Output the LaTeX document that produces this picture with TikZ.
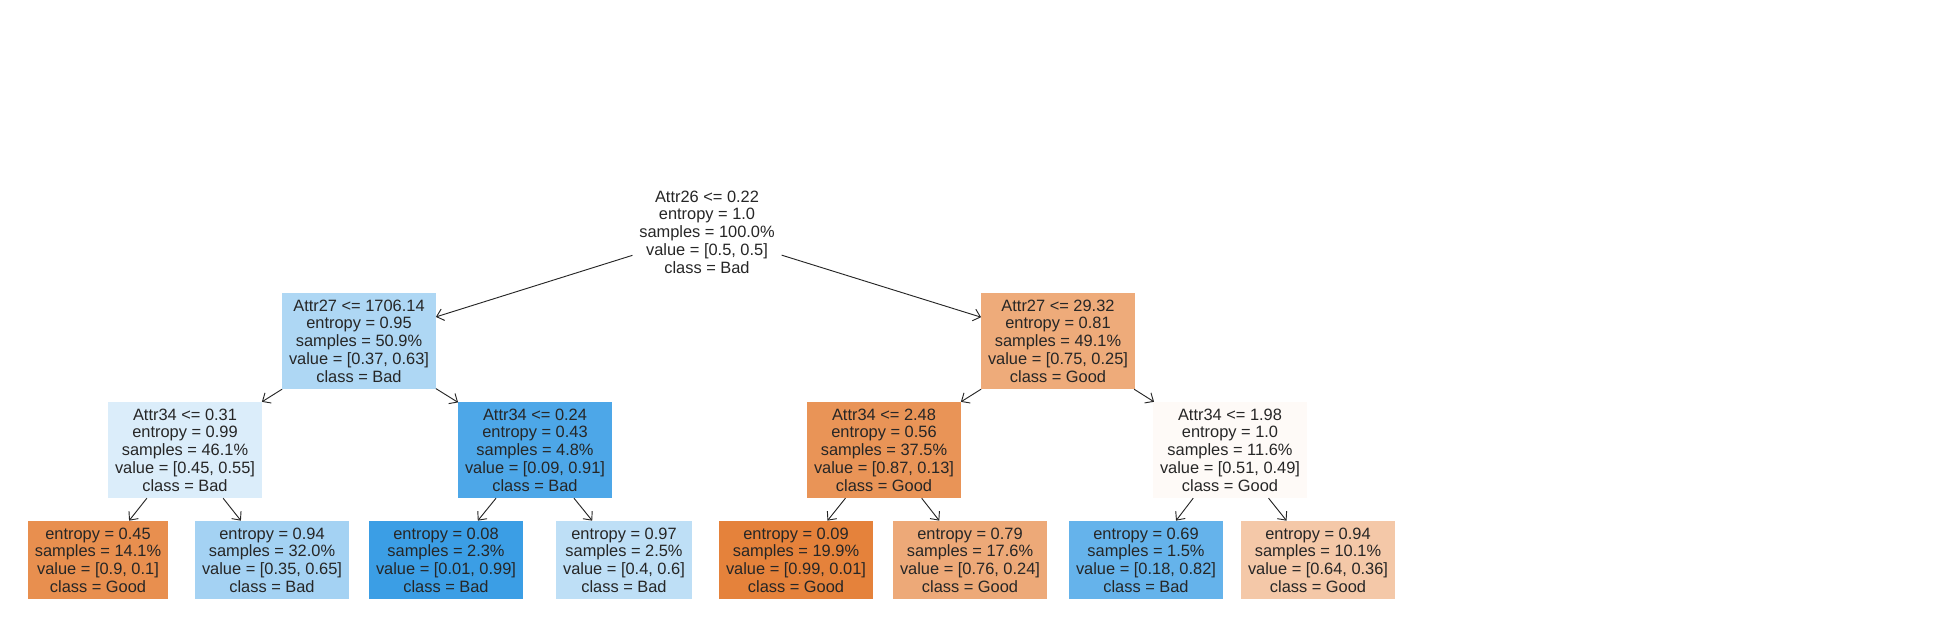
\documentclass[tikz,border=0pt]{standalone}
\usepackage{fontspec}
\setmainfont{Liberation Sans}
\usepackage{tikz}
\usetikzlibrary{arrows.meta}
\definecolor{good}{RGB}{229,129,57}
\definecolor{bad}{RGB}{57,157,229}
\definecolor{ink}{RGB}{38,38,38}

\begin{document}
\begin{tikzpicture}[x=0.75pt,y=-0.75pt]
                      \tikzstyle{split}=[align=center,inner xsep=5pt,inner ysep=5pt,text=ink,font=\fontsize{12.3}{13.3}\selectfont]
                      \tikzstyle{edge}=[draw=ink,line width=0.7pt,-{Straight Barb[length=5pt,width=9pt]}]
                      \useasboundingbox (0,0) rectangle (1957,623);
                      % root and inner splits
                      \node[split,fill=white] (root) at (707,232) {Attr26 <= 0.22\\entropy = 1.0\\samples = 100.0\%\\value = [0.5, 0.5]\\class = Bad};
                      \node[split,fill=bad!41!white] (l) at (359,341) {Attr27 <= 1706.14\\entropy = 0.95\\samples = 50.9\%\\value = [0.37, 0.63]\\class = Bad};
                      \node[split,fill=good!67!white] (r) at (1058,341) {Attr27 <= 29.32\\entropy = 0.81\\samples = 49.1\%\\value = [0.75, 0.25]\\class = Good};
                      \node[split,fill=bad!18!white] (ll) at (185,450) {Attr34 <= 0.31\\entropy = 0.99\\samples = 46.1\%\\value = [0.45, 0.55]\\class = Bad};
                      \node[split,fill=bad!90!white] (lr) at (535,450) {Attr34 <= 0.24\\entropy = 0.43\\samples = 4.8\%\\value = [0.09, 0.91]\\class = Bad};
                      \node[split,fill=good!85!white] (rl) at (884,450) {Attr34 <= 2.48\\entropy = 0.56\\samples = 37.5\%\\value = [0.87, 0.13]\\class = Good};
                      \node[split,fill=good!4!white] (rr) at (1230,450) {Attr34 <= 1.98\\entropy = 1.0\\samples = 11.6\%\\value = [0.51, 0.49]\\class = Good};
                      % leaves
                      \node[split,fill=good!89!white] (lll) at (98,560) {entropy = 0.45\\samples = 14.1\%\\value = [0.9, 0.1]\\class = Good};
                      \node[split,fill=bad!46!white] (llr) at (272,560) {entropy = 0.94\\samples = 32.0\%\\value = [0.35, 0.65]\\class = Bad};
                      \node[split,fill=bad!99!white] (lrl) at (446,560) {entropy = 0.08\\samples = 2.3\%\\value = [0.01, 0.99]\\class = Bad};
                      \node[split,fill=bad!33!white] (lrr) at (624,560) {entropy = 0.97\\samples = 2.5\%\\value = [0.4, 0.6]\\class = Bad};
                      \node[split,fill=good!99!white] (rll) at (796,560) {entropy = 0.09\\samples = 19.9\%\\value = [0.99, 0.01]\\class = Good};
                      \node[split,fill=good!68!white] (rlr) at (970,560) {entropy = 0.79\\samples = 17.6\%\\value = [0.76, 0.24]\\class = Good};
                      \node[split,fill=bad!78!white] (rrl) at (1146,560) {entropy = 0.69\\samples = 1.5\%\\value = [0.18, 0.82]\\class = Bad};
                      \node[split,fill=good!44!white] (rrr) at (1318,560) {entropy = 0.94\\samples = 10.1\%\\value = [0.64, 0.36]\\class = Good};
                      % edges
                      \draw[edge] (root) -- (l);
                      \draw[edge] (root) -- (r);
                      \draw[edge] (l) -- (ll);
                      \draw[edge] (l) -- (lr);
                      \draw[edge] (r) -- (rl);
                      \draw[edge] (r) -- (rr);
                      \draw[edge] (ll) -- (lll);
                      \draw[edge] (ll) -- (llr);
                      \draw[edge] (lr) -- (lrl);
                      \draw[edge] (lr) -- (lrr);
                      \draw[edge] (rl) -- (rll);
                      \draw[edge] (rl) -- (rlr);
                      \draw[edge] (rr) -- (rrl);
                      \draw[edge] (rr) -- (rrr);
\end{tikzpicture}
\end{document}
